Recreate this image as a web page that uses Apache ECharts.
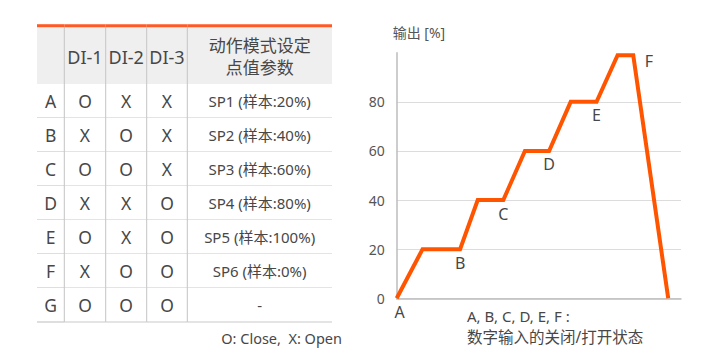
<!DOCTYPE html>
<html>
<head>
<meta charset="utf-8">
<script src="https://cdn.jsdelivr.net/npm/echarts@6/dist/echarts.min.js"></script>
<style>html,body{margin:0;padding:0;background:#fff}#c{width:720px;height:360px}</style>
</head>
<body>
<div id="c"></div>
<script>
// ---- Table data ----
const tableHeader = ['', 'DI-1', 'DI-2', 'DI-3', '动作模式设定\n点值参数'];
const rowLabels = ['A', 'B', 'C', 'D', 'E', 'F', 'G'];
const di1 = ['O', 'X', 'O', 'X', 'O', 'X', 'O'];
const di2 = ['X', 'O', 'O', 'X', 'X', 'O', 'O'];
const di3 = ['X', 'X', 'X', 'O', 'O', 'O', 'O'];
const spValues = ['SP1 (样本:20%)', 'SP2 (样本:40%)', 'SP3 (样本:60%)', 'SP4 (样本:80%)', 'SP5 (样本:100%)', 'SP6 (样本:0%)', '-'];
const legendNote = 'O: Close,  X: Open';

// ---- Chart data ----
const timePos = [0, 9.1, 22.3, 28.5, 37.5, 45.1, 53.6, 61.2, 70.3, 77.7, 83.2, 95.5];
const outputPct = [0, 20, 20, 40, 40, 60, 60, 80, 80, 99, 99, 0];
const pointLabels = ['A', '', 'B', '', 'C', '', 'D', '', 'E', '', 'F', ''];
const yAxisName = '输出 [%]';
const noteLine1 = 'A, B, C, D, E, F :';
const noteLine2 = '数字输入的关闭/打开状态';

// ---- Table layout (widths/heights, not data) ----
const colEdges = [0, 27.3, 68.7, 109.7, 150.3, 295];
const rowEdges = [0, 57];
for (let i = 0; i < rowLabels.length; i++) rowEdges.push(57 + 34 * (i + 1));

const FONT = '"Noto Sans", "Noto Sans CJK SC", sans-serif';
const ORANGE = '#ff5500';
const TXT = '#474747';

const cells = [];
tableHeader.forEach((t, c) => cells.push({ c: c, r: 0, t: t }));
rowLabels.forEach((lab, i) => {
  cells.push({ c: 0, r: i + 1, t: lab });
  cells.push({ c: 1, r: i + 1, t: di1[i] });
  cells.push({ c: 2, r: i + 1, t: di2[i] });
  cells.push({ c: 3, r: i + 1, t: di3[i] });
  cells.push({ c: 4, r: i + 1, t: spValues[i] });
});

function renderCell(params, api) {
  const cell = cells[params.dataIndex];
  const c = cell.c, r = cell.r;
  const p0 = api.coord([colEdges[c], rowEdges[r]]);
  const p1 = api.coord([colEdges[c + 1], rowEdges[r + 1]]);
  const children = [];
  children.push({
    type: 'rect',
    shape: { x: p0[0], y: p0[1], width: p1[0] - p0[0], height: p1[1] - p0[1] },
    style: { fill: r === 0 ? '#efefef' : '#ffffff' }
  });
  if (r > 0) {
    children.push({
      type: 'line',
      shape: { x1: p0[0], y1: p1[1], x2: p1[0], y2: p1[1] },
      style: { stroke: '#c9c9c9', lineWidth: 1.2 }
    });
  }
  if (c > 0) {
    children.push({
      type: 'line',
      shape: { x1: p0[0], y1: p0[1], x2: p0[0], y2: p1[1] },
      style: { stroke: '#c4c4c4', lineWidth: 1 }
    });
  }
  if (r === 0) {
    children.push({
      type: 'line',
      shape: { x1: p0[0], y1: p0[1] - 1.3, x2: p1[0], y2: p0[1] - 1.3 },
      style: { stroke: '#ff5a26', lineWidth: 3 }
    });
  }
  let fs = 17.5;
  if (c === 4 && r > 0) fs = 15;
  if (r === 0) fs = (c === 4) ? 17 : 18;
  children.push({
    type: 'text',
    style: {
      x: (p0[0] + p1[0]) / 2,
      y: (p0[1] + p1[1]) / 2 + (r === 0 ? 1 : 0),
      text: cell.t,
      align: 'center',
      verticalAlign: 'middle',
      fill: TXT,
      fontSize: fs,
      fontFamily: FONT,
      lineHeight: 22
    }
  });
  return { type: 'group', children: children };
}

const lineData = timePos.map((x, i) => {
  const item = { value: [x, outputPct[i]] };
  if (pointLabels[i]) {
    if (pointLabels[i] === 'F') {
      item.label = { show: true, formatter: 'F', position: 'right', distance: 11, offset: [0, 6] };
    } else if (pointLabels[i] === 'A') {
      item.label = { show: true, formatter: 'A', position: 'bottom', distance: 5, offset: [3, 0] };
    } else {
      item.label = { show: true, formatter: pointLabels[i], position: 'bottom', distance: 5 };
    }
  }
  return item;
});

const chart = echarts.init(document.getElementById('c'), null, { renderer: 'svg' });
chart.setOption({
  animation: false,
  backgroundColor: '#ffffff',
  textStyle: { fontFamily: FONT },
  grid: [
    { left: 396.7, right: 39, top: 52.7, bottom: 61.7, containLabel: false },
    { left: 37, top: 27, width: 295, height: 295, containLabel: false }
  ],
  xAxis: [
    {
      type: 'value', gridIndex: 0, min: 0, max: 100,
      axisLine: { show: true, lineStyle: { color: '#bdbdbd', width: 1.5 } },
      axisTick: { show: false }, axisLabel: { show: false }, splitLine: { show: false }
    },
    { type: 'value', gridIndex: 1, min: 0, max: 295, show: false }
  ],
  yAxis: [
    {
      type: 'value', gridIndex: 0, min: 0, max: 100, interval: 20,
      name: yAxisName, nameLocation: 'end', nameGap: 13,
      nameTextStyle: { color: '#555', fontSize: 14, fontFamily: FONT, align: 'left', padding: [0, 0, 0, -4] },
      axisLine: { show: true, lineStyle: { color: '#bdbdbd', width: 1.5 } },
      axisTick: { show: false },
      axisLabel: { color: '#555', fontSize: 14, fontFamily: FONT, margin: 12, showMaxLabel: false },
      splitLine: { show: true, showMaxLine: false, lineStyle: { color: '#dcdcdc', width: 1 } }
    },
    { type: 'value', gridIndex: 1, min: 0, max: 295, inverse: true, show: false }
  ],
  series: [
    {
      type: 'line', xAxisIndex: 0, yAxisIndex: 0,
      data: lineData,
      symbol: 'circle', symbolSize: 1,
      itemStyle: { color: 'rgba(0,0,0,0)' },
      lineStyle: { color: ORANGE, width: 4, join: 'miter' },
      label: { show: false, color: TXT, fontSize: 16, fontFamily: FONT },
      silent: true, z: 3
    },
    {
      type: 'custom', xAxisIndex: 1, yAxisIndex: 1,
      data: cells.map((cell, i) => [colEdges[cell.c], rowEdges[cell.r]]),
      renderItem: renderCell,
      silent: true
    }
  ],
  graphic: [
    {
      type: 'text',
      style: { x: 467, y: 316.3, verticalAlign: 'middle', text: noteLine1, fill: TXT, fontSize: 15, fontFamily: FONT }
    },
    {
      type: 'text',
      style: { x: 467, y: 337, verticalAlign: 'middle', text: noteLine2, fill: TXT, fontSize: 15.5, fontFamily: FONT }
    },
    {
      type: 'text',
      style: { x: 342, y: 338.3, align: 'right', verticalAlign: 'middle', text: legendNote, fill: TXT, fontSize: 14.5, fontFamily: FONT }
    }
  ]
});
</script>
</body>
</html>
